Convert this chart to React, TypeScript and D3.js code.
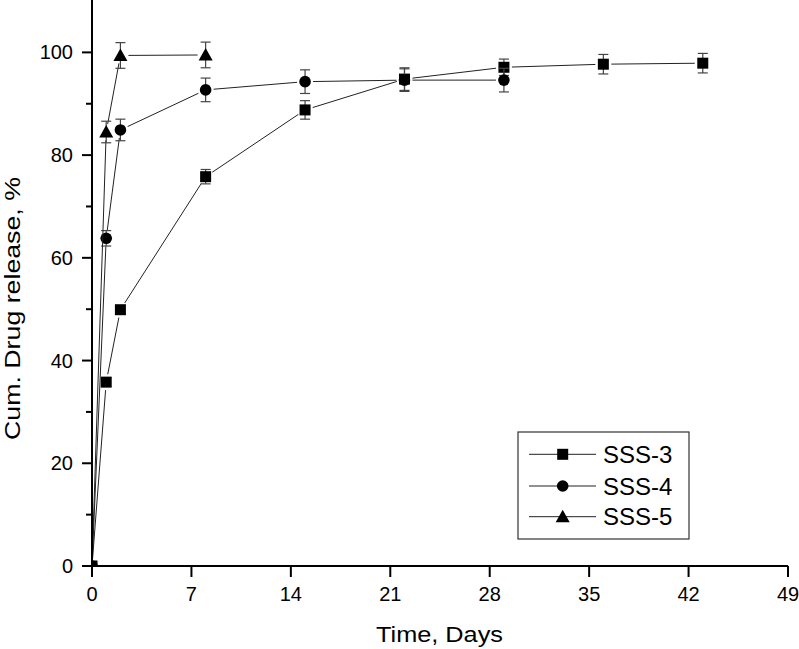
import React from "react";
import * as d3 from "d3";

const days3 = [0, 1, 2, 8, 15, 22, 29, 36, 43];
const sss3 = [0, 35.8, 49.9, 75.8, 88.8, 94.8, 97.1, 97.7, 97.9];
const err3 = [0, 0.8, 0.8, 1.4, 1.8, 2.2, 1.6, 1.9, 1.9];

const days4 = [0, 1, 2, 8, 15, 22, 29];
const sss4 = [0, 63.8, 84.9, 92.7, 94.3, 94.6, 94.6];
const err4 = [0, 1.5, 2.1, 2.3, 2.3, 2.2, 2.3];

const days5 = [0, 1, 2, 8];
const sss5 = [0, 84.5, 99.4, 99.5];
const err5 = [0, 2.1, 2.5, 2.5];

const xTicks = [0, 7, 14, 21, 28, 35, 42, 49];
const yTicks = [0, 20, 40, 60, 80, 100];
const yMinor = [10, 30, 50, 70, 90];

const seriesNames = ["SSS-3", "SSS-4", "SSS-5"];
const shapes = ["square", "circle", "triangle"];

const W = 799;
const H = 649;
const left = 92;
const right = 788;
const top = 0;
const bottom = 566;

const x = d3.scaleLinear().domain([0, 49]).range([left, right]);
const y = d3.scaleLinear().domain([0, 110.2]).range([bottom, top]);

const FONT = "Arial, 'Liberation Sans', Helvetica, sans-serif";

function Marker({ shape, cx, cy }: { shape: string; cx: number; cy: number }) {
  if (shape === "square") {
    return <rect x={cx - 5.5} y={cy - 5.5} width={11} height={11} fill="#000" />;
  }
  if (shape === "circle") {
    return <circle cx={cx} cy={cy} r={5.8} fill="#000" />;
  }
  const p = d3.path();
  p.moveTo(cx, cy - 7);
  p.lineTo(cx + 7, cy + 5.5);
  p.lineTo(cx - 7, cy + 5.5);
  p.closePath();
  return <path d={p.toString()} fill="#000" />;
}

function Series({ days, vals, errs, shape }: { days: number[]; vals: number[]; errs: number[]; shape: string }) {
  const pts = days.map((d, i) => [x(d), y(vals[i])]);
  const gap = 8;
  const segs = [];
  for (let i = 0; i < pts.length - 1; i++) {
    const [x1, y1] = pts[i];
    const [x2, y2] = pts[i + 1];
    const len = Math.hypot(x2 - x1, y2 - y1);
    const g1 = i === 0 ? 0 : gap;
    if (len <= g1 + gap) continue;
    const ux = (x2 - x1) / len;
    const uy = (y2 - y1) / len;
    segs.push(
      <line
        key={"s" + i}
        x1={x1 + ux * g1}
        y1={y1 + uy * g1}
        x2={x2 - ux * gap}
        y2={y2 - uy * gap}
        stroke="#222"
        strokeWidth={1}
      />
    );
  }
  const bars = days.map((d, i) => {
    if (errs[i] <= 0) return null;
    const cx = x(d);
    const yt = y(vals[i] + errs[i]);
    const yb = y(vals[i] - errs[i]);
    return (
      <g key={"e" + i} stroke="#444" strokeWidth={1.2}>
        <line x1={cx} x2={cx} y1={yt} y2={yb} />
        <line x1={cx - 5} x2={cx + 5} y1={yt} y2={yt} />
        <line x1={cx - 5} x2={cx + 5} y1={yb} y2={yb} />
      </g>
    );
  });
  return (
    <g>
      {segs}
      {bars}
      {pts.map(([px, py], i) => (
        <Marker key={"m" + i} shape={shape} cx={px} cy={py} />
      ))}
    </g>
  );
}

export default function App() {
  const legendRows = [454.3, 486, 516.7];
  return (
    <div style={{ position: "absolute", left: 0, top: 0 }}>
      <svg width={W} height={H} style={{ display: "block", background: "#fff" }} fontFamily={FONT}>
        <rect x={0} y={0} width={W} height={H} fill="#fff" />
        <defs>
          <clipPath id="plotClip">
            <rect x={left} y={top} width={right - left} height={bottom - top} />
          </clipPath>
        </defs>
        <g clipPath="url(#plotClip)">
          <Series days={days3} vals={sss3} errs={err3} shape="square" />
          <Series days={days4} vals={sss4} errs={err4} shape="circle" />
          <Series days={days5} vals={sss5} errs={err5} shape="triangle" />
        </g>

        {/* axes */}
        <line x1={left} x2={right} y1={bottom} y2={bottom} stroke="#000" strokeWidth={2} />
        <line x1={left} x2={left} y1={top} y2={bottom + 1} stroke="#000" strokeWidth={2} />
        {xTicks.map((t) => (
          <g key={"xt" + t}>
            <line x1={x(t)} x2={x(t)} y1={bottom} y2={bottom + 11} stroke="#000" strokeWidth={2} />
            <text x={x(t)} y={601} fontSize={20} textAnchor="middle" fill="#000">
              {t}
            </text>
          </g>
        ))}
        {yTicks.map((t) => (
          <g key={"yt" + t}>
            <line x1={left - 10} x2={left} y1={y(t)} y2={y(t)} stroke="#000" strokeWidth={2} />
            <text x={73} y={y(t) + 7} fontSize={20} textAnchor="end" fill="#000">
              {t}
            </text>
          </g>
        ))}
        {yMinor.map((t) => (
          <line key={"ym" + t} x1={left - 6} x2={left} y1={y(t)} y2={y(t)} stroke="#000" strokeWidth={2} />
        ))}

        <text x={376} y={642} fontSize={22} textLength={127} lengthAdjust="spacingAndGlyphs" fill="#000">
          Time, Days
        </text>
        <text
          transform="translate(20,440) rotate(-90)"
          x={0}
          y={0}
          fontSize={22}
          textLength={263}
          lengthAdjust="spacingAndGlyphs"
          fill="#000"
        >
          Cum. Drug release, %
        </text>

        {/* legend */}
        <rect x={518} y={432} width={171} height={107} fill="#fff" stroke="#333" strokeWidth={1.2} />
        {seriesNames.map((name, i) => (
          <g key={name}>
            <line x1={529} x2={596} y1={legendRows[i]} y2={legendRows[i]} stroke="#222" strokeWidth={1} />
            <Marker shape={shapes[i]} cx={562.7} cy={legendRows[i]} />
            <text x={603} y={legendRows[i] + 8.5} fontSize={24} fill="#000">
              {name}
            </text>
          </g>
        ))}
      </svg>
    </div>
  );
}
